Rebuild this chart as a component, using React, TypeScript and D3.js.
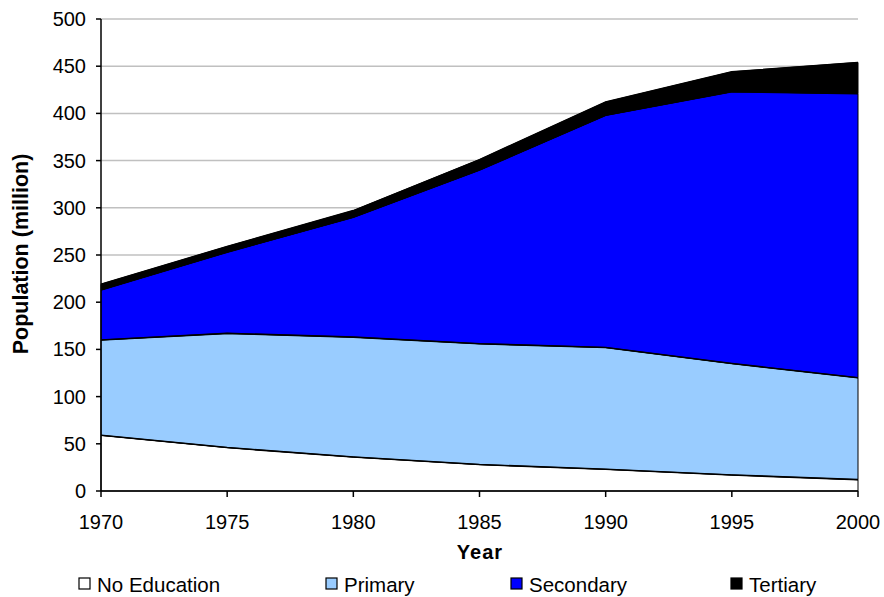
import React from "react";
import * as d3 from "d3";

const years = [1970, 1975, 1980, 1985, 1990, 1995, 2000];
const noEducation = [59, 46, 36, 28, 23, 17, 12];
const primary = [101, 121, 127, 128, 129, 118, 108];
const secondary = [53, 86, 127, 184, 246, 288, 301];
const tertiary = [6, 6, 7, 11, 14, 21, 33];
const seriesNames = ["No Education", "Primary", "Secondary", "Tertiary"];
const seriesColors = ["#ffffff", "#99ccff", "#0000ff", "#000000"];
const yTicks = [0, 50, 100, 150, 200, 250, 300, 350, 400, 450, 500];

const W = 884;
const H = 597;
const M = { left: 101, right: 858, top: 19, bottom: 491 };
const FONT = "'Liberation Sans', Arial, sans-serif";

export default function App() {
  const x = d3.scaleLinear().domain([1970, 2000]).range([M.left, M.right]);
  const y = d3.scaleLinear().domain([0, 500]).range([M.bottom, M.top]);

  const rows = years.map((yr, i) => ({
    year: yr,
    "No Education": noEducation[i],
    Primary: primary[i],
    Secondary: secondary[i],
    Tertiary: tertiary[i],
  }));
  const stacked = d3.stack<any>().keys(seriesNames)(rows);
  const area = d3
    .area<any>()
    .x((d) => x(d.data.year))
    .y0((d) => y(d[0]))
    .y1((d) => y(d[1]));
  const topLine = d3
    .line<any>()
    .x((d) => x(d.data.year))
    .y((d) => y(d[1]));

  const legendX = [79, 326, 511, 731];

  return (
    <svg
      width={W}
      height={H}
      style={{ position: "absolute", left: 0, top: 0, background: "#fff" }}
      fontFamily={FONT}
    >
      {yTicks
        .filter((t) => t > 0)
        .map((t) => (
          <line
            key={"g" + t}
            x1={M.left}
            x2={M.right}
            y1={y(t)}
            y2={y(t)}
            stroke="#c0c0c0"
            strokeWidth={1.5}
          />
        ))}
      {stacked.map((s, i) => (
        <path
          key={"a" + i}
          d={area(s) || ""}
          fill={seriesColors[i]}
          stroke="#000"
          strokeWidth={1}
          strokeLinejoin="round"
        />
      ))}
      {stacked.map((s, i) => (
        <path
          key={"l" + i}
          d={topLine(s) || ""}
          fill="none"
          stroke="#000"
          strokeWidth={1.6}
        />
      ))}
      <line x1={M.left} x2={M.left} y1={M.top} y2={M.bottom} stroke="#000" strokeWidth={1.5} />
      <line x1={M.left} x2={M.right} y1={M.bottom} y2={M.bottom} stroke="#000" strokeWidth={1.5} />
      {yTicks.map((t) => (
        <g key={"yt" + t}>
          <line x1={M.left - 5} x2={M.left} y1={y(t)} y2={y(t)} stroke="#000" strokeWidth={1.5} />
          <text
            x={86}
            y={y(t)}
            textAnchor="end"
            dominantBaseline="central"
            fontSize={20}
            fill="#000"
          >
            {t}
          </text>
        </g>
      ))}
      {years.map((yr) => (
        <g key={"xt" + yr}>
          <line x1={x(yr)} x2={x(yr)} y1={M.bottom} y2={M.bottom + 6} stroke="#000" strokeWidth={1.5} />
          <text
            x={x(yr)}
            y={522}
            textAnchor="middle"
            dominantBaseline="central"
            fontSize={20}
            fill="#000"
          >
            {yr}
          </text>
        </g>
      ))}
      <text
        x={480}
        y={552}
        textAnchor="middle"
        dominantBaseline="central"
        fontSize={20}
        fontWeight="bold"
        letterSpacing={1}
      >
        Year
      </text>
      <text
        transform={`translate(21,254) rotate(-90)`}
        textAnchor="middle"
        dominantBaseline="central"
        fontSize={21.5}
        fontWeight="bold"
      >
        Population (million)
      </text>
      {seriesNames.map((n, i) => (
        <g key={"lg" + i}>
          <rect
            x={legendX[i]}
            y={578}
            width={11}
            height={11}
            fill={seriesColors[i]}
            stroke="#000"
            strokeWidth={1.2}
          />
          <text x={legendX[i] + 18} y={584} dominantBaseline="central" fontSize={20.5}>
            {n}
          </text>
        </g>
      ))}
    </svg>
  );
}
